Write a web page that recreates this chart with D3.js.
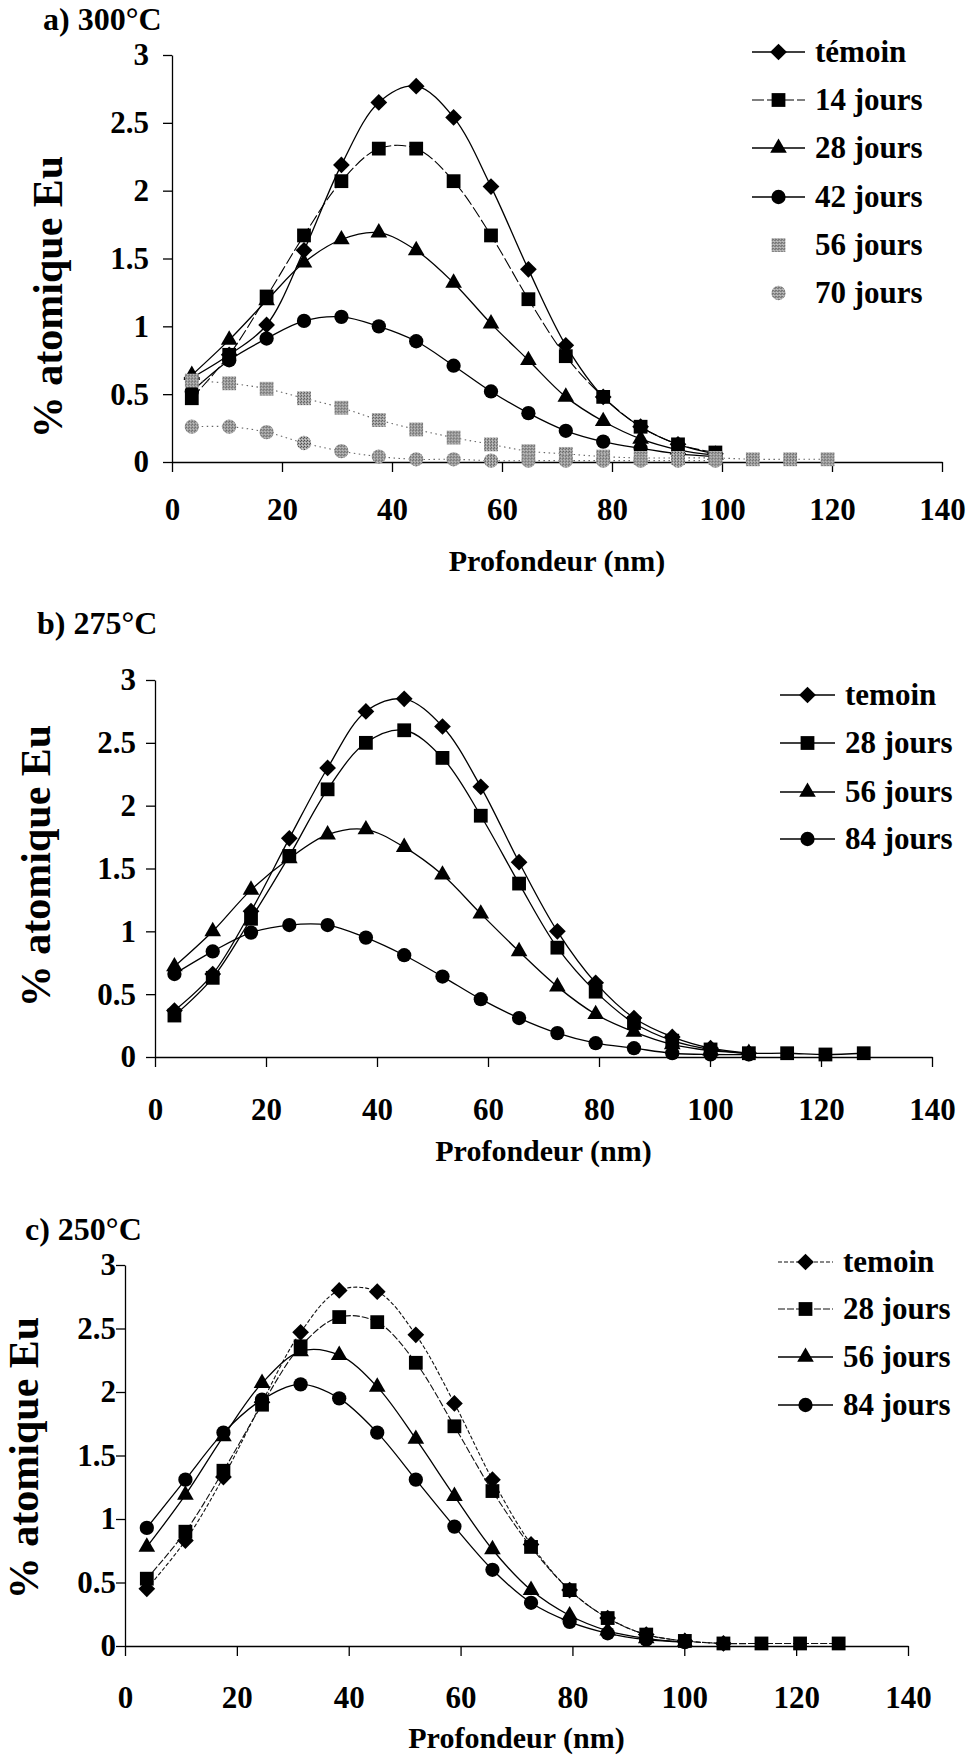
<!DOCTYPE html>
<html><head><meta charset="utf-8">
<script src="https://cdn.jsdelivr.net/npm/d3@7"></script>
<style>
html,body{margin:0;padding:0;background:#fff;}
svg{display:block;}
text{font-family:"Liberation Serif","Times New Roman",serif;font-weight:bold;fill:#000;}
</style>
</head><body>
<svg id="chart" width="969" height="1758"></svg>
<script>
// ---------------- DATA ----------------
const xTicks = [0, 20, 40, 60, 80, 100, 120, 140];
const yTicks = [0, 0.5, 1, 1.5, 2, 2.5, 3];
const xTitle = "Profondeur (nm)";
const yTitle = "% atomique Eu";

// Panel a) 300°C
const titleA = "a) 300°C";
const namesA = ["témoin", "14 jours", "28 jours", "42 jours", "56 jours", "70 jours"];
const depthA = [3.6, 10.4, 17.2, 24.0, 30.8, 37.6, 44.4, 51.2, 58.0, 64.8, 71.6, 78.4, 85.2, 92.0, 98.8, 105.6, 112.4, 119.2];
const a_temoin = [0.62, 0.79, 1.01, 1.56, 2.19, 2.65, 2.77, 2.54, 2.03, 1.42, 0.86, 0.48, 0.26, 0.13, 0.06];
const a_14j    = [0.47, 0.79, 1.22, 1.67, 2.07, 2.31, 2.31, 2.07, 1.67, 1.20, 0.78, 0.48, 0.26, 0.13, 0.07];
const a_28j    = [0.64, 0.90, 1.19, 1.47, 1.64, 1.69, 1.56, 1.32, 1.02, 0.75, 0.48, 0.30, 0.17, 0.09, 0.05];
const a_42j    = [0.52, 0.75, 0.91, 1.04, 1.07, 1.00, 0.89, 0.71, 0.52, 0.36, 0.23, 0.15, 0.10, 0.06, 0.04];
const a_56j    = [0.60, 0.58, 0.54, 0.47, 0.40, 0.31, 0.24, 0.18, 0.13, 0.08, 0.06, 0.04, 0.03, 0.03, 0.03, 0.02, 0.02, 0.02];
const a_70j    = [0.26, 0.26, 0.22, 0.14, 0.08, 0.04, 0.02, 0.02, 0.01, 0.01, 0.01, 0.01, 0.01, 0.01, 0.01];

// Panel b) 275°C
const titleB = "b) 275°C";
const namesB = ["temoin", "28 jours", "56 jours", "84 jours"];
const depthB = [3.5, 10.4, 17.3, 24.2, 31.1, 38.0, 44.9, 51.8, 58.7, 65.6, 72.5, 79.4, 86.3, 93.2, 100.1, 107.0, 113.9, 120.8, 127.7];
const b_temoin = [0.37, 0.66, 1.16, 1.74, 2.30, 2.75, 2.85, 2.63, 2.15, 1.55, 1.00, 0.59, 0.31, 0.16, 0.07, 0.03];
const b_28j    = [0.33, 0.63, 1.10, 1.60, 2.13, 2.50, 2.60, 2.38, 1.92, 1.38, 0.87, 0.52, 0.27, 0.13, 0.06, 0.03, 0.03, 0.02, 0.03];
const b_56j    = [0.72, 1.00, 1.33, 1.58, 1.77, 1.81, 1.67, 1.45, 1.14, 0.84, 0.56, 0.34, 0.20, 0.10, 0.05, 0.03];
const b_84j    = [0.66, 0.84, 0.99, 1.05, 1.05, 0.95, 0.81, 0.64, 0.46, 0.31, 0.19, 0.11, 0.07, 0.03, 0.02, 0.02];

// Panel c) 250°C
const titleC = "c) 250°C";
const namesC = ["temoin", "28 jours", "56 jours", "84 jours"];
const depthC = [3.9, 10.8, 17.6, 24.5, 31.4, 38.3, 45.1, 52.0, 58.9, 65.7, 72.6, 79.5, 86.3, 93.2, 100.1, 107.0, 113.8, 120.7, 127.6];
const c_temoin = [0.45, 0.83, 1.33, 1.92, 2.47, 2.80, 2.79, 2.45, 1.91, 1.31, 0.80, 0.44, 0.22, 0.09, 0.04, 0.02];
const c_28j    = [0.53, 0.90, 1.38, 1.90, 2.36, 2.59, 2.55, 2.23, 1.73, 1.22, 0.78, 0.44, 0.22, 0.09, 0.04, 0.02, 0.02, 0.02, 0.02];
const c_56j    = [0.78, 1.19, 1.65, 2.07, 2.32, 2.29, 2.04, 1.63, 1.18, 0.76, 0.44, 0.24, 0.12, 0.06, 0.03];
const c_84j    = [0.93, 1.31, 1.68, 1.94, 2.06, 1.95, 1.68, 1.31, 0.94, 0.60, 0.34, 0.19, 0.10, 0.05, 0.03];

// ---------------- STYLES / LAYOUT ----------------
const svg = d3.select("#chart");
const defs = svg.append("defs");
const pat = defs.append("pattern").attr("id", "dither").attr("width", 3).attr("height", 3)
  .attr("patternUnits", "userSpaceOnUse");
pat.append("rect").attr("width", 3).attr("height", 3).attr("fill", "#a6a6a6");
pat.append("rect").attr("x", 0).attr("y", 0).attr("width", 1).attr("height", 1).attr("fill", "#4a4a4a");
pat.append("rect").attr("x", 2).attr("y", 1).attr("width", 1).attr("height", 1).attr("fill", "#5a5a5a");
pat.append("rect").attr("x", 1).attr("y", 2).attr("width", 1).attr("height", 1).attr("fill", "#d0d0d0");

const sym = {
  diamond: {type: d3.symbolSquare, size: 140, rot: 45},
  square: {type: d3.symbolSquare, size: 190, rot: 0},
  triangle: {type: d3.symbolTriangle, size: 120, rot: 0},
  circle: {type: d3.symbolCircle, size: 160, rot: 0}
};

const solid = {stroke: "#000", width: 1.3, dash: null};

const panels = [
  {
    title: titleA, tx: 43, ty: 30,
    x0: 172, x1: 942, y0: 462, y1: 55, yPad: 14, xPad: 26, xtY: 571,
    yt: {x: 62, y: 297},
    depth: depthA,
    legend: {lx0: 752, lx1: 805, tx: 815, ys: [52, 100, 148, 197, 245, 293]},
    series: [
      {name: namesA[0], values: a_temoin, marker: "diamond", fill: "#000", line: solid, legendLine: true},
      {name: namesA[1], values: a_14j, marker: "square", fill: "#000", line: {stroke: "#000", width: 1.1, dash: "12,3"}, legendLine: true},
      {name: namesA[2], values: a_28j, marker: "triangle", fill: "#000", line: solid, legendLine: true},
      {name: namesA[3], values: a_42j, marker: "circle", fill: "#000", line: solid, legendLine: true},
      {name: namesA[4], values: a_56j, marker: "square", fill: "url(#dither)", line: {stroke: "#666", width: 1.1, dash: "1.5,3.5"}, legendLine: false},
      {name: namesA[5], values: a_70j, marker: "circle", fill: "url(#dither)", line: {stroke: "#666", width: 1.1, dash: "1.5,3.5"}, legendLine: false}
    ]
  },
  {
    title: titleB, tx: 37, ty: 634,
    x0: 155, x1: 932, y0: 1057, y1: 680, yPad: 10, xPad: 31, xtY: 1161,
    yt: {x: 50, y: 866},
    depth: depthB,
    legend: {lx0: 780, lx1: 835, tx: 845, ys: [695, 743, 792, 839]},
    series: [
      {name: namesB[0], values: b_temoin, marker: "diamond", fill: "#000", line: solid, legendLine: true},
      {name: namesB[1], values: b_28j, marker: "square", fill: "#000", line: solid, legendLine: true},
      {name: namesB[2], values: b_56j, marker: "triangle", fill: "#000", line: solid, legendLine: true},
      {name: namesB[3], values: b_84j, marker: "circle", fill: "#000", line: solid, legendLine: true}
    ]
  },
  {
    title: titleC, tx: 25, ty: 1240,
    x0: 125, x1: 908, y0: 1646, y1: 1265, yPad: 0, xPad: 30, xtY: 1748,
    yt: {x: 38, y: 1458},
    depth: depthC,
    legend: {lx0: 778, lx1: 833, tx: 843, ys: [1262, 1309, 1357, 1405]},
    series: [
      {name: namesC[0], values: c_temoin, marker: "diamond", fill: "#000", line: {stroke: "#111", width: 1.1, dash: "4,2"}, legendLine: true},
      {name: namesC[1], values: c_28j, marker: "square", fill: "#000", line: {stroke: "#111", width: 1.1, dash: "7,2"}, legendLine: true},
      {name: namesC[2], values: c_56j, marker: "triangle", fill: "#000", line: solid, legendLine: true},
      {name: namesC[3], values: c_84j, marker: "circle", fill: "#000", line: solid, legendLine: true}
    ]
  }
];

function markerPath(kind) {
  return d3.symbol().type(sym[kind].type).size(sym[kind].size)();
}

function drawPanel(p) {
  const x = d3.scaleLinear().domain([0, 140]).range([p.x0, p.x1]);
  const y = d3.scaleLinear().domain([0, 3]).range([p.y0, p.y1]);
  const g = svg.append("g");

  // title
  g.append("text").attr("x", p.tx).attr("y", p.ty).attr("font-size", 32).text(p.title);

  // y axis
  const ya = g.append("g").attr("transform", `translate(${p.x0},0)`)
    .call(d3.axisLeft(y).tickValues(yTicks).tickSize(9).tickSizeOuter(0)
      .tickPadding(p.yPad).tickFormat(d3.format("~g")));
  ya.attr("font-family", null).attr("font-size", 31);
  ya.selectAll("line").attr("stroke-width", 1.3);
  ya.select(".domain").attr("stroke-width", 1.3);

  // x axis
  const xa = g.append("g").attr("transform", `translate(0,${p.y0})`)
    .call(d3.axisBottom(x).tickValues(xTicks).tickSize(10).tickSizeOuter(0).tickPadding(p.xPad));
  xa.attr("font-family", null).attr("font-size", 31);
  xa.selectAll("line").attr("stroke-width", 1.3);
  xa.select(".domain").attr("stroke-width", 1.3);

  // axis titles
  g.append("text").attr("x", (p.x0 + p.x1) / 2).attr("y", p.xtY)
    .attr("text-anchor", "middle").attr("font-size", 30).text(xTitle);
  g.append("text").attr("transform", `translate(${p.yt.x},${p.yt.y}) rotate(-90)`)
    .attr("text-anchor", "middle").attr("font-size", 42).text(yTitle);

  // series
  const line = d3.line().x(d => x(d[0])).y(d => y(d[1])).curve(d3.curveCatmullRom.alpha(0.5));
  p.series.forEach(s => {
    const pts = s.values.map((v, i) => [p.depth[i], v]);
    g.append("path").datum(pts).attr("d", line).attr("fill", "none")
      .attr("stroke", s.line.stroke).attr("stroke-width", s.line.width)
      .attr("stroke-dasharray", s.line.dash);
    g.selectAll(null).data(pts).enter().append("path")
      .attr("d", markerPath(s.marker))
      .attr("transform", d => `translate(${x(d[0])},${y(d[1])}) rotate(${sym[s.marker].rot})`)
      .attr("fill", s.fill);
  });

  // legend
  const L = p.legend;
  p.series.forEach((s, i) => {
    const ly = L.ys[i];
    const mx = (L.lx0 + L.lx1) / 2;
    if (s.legendLine) {
      g.append("line").attr("x1", L.lx0).attr("x2", L.lx1).attr("y1", ly).attr("y2", ly)
        .attr("stroke", s.line.stroke).attr("stroke-width", s.line.width)
        .attr("stroke-dasharray", s.line.dash);
    }
    g.append("path").attr("d", markerPath(s.marker))
      .attr("transform", `translate(${mx},${ly}) rotate(${sym[s.marker].rot})`)
      .attr("fill", s.fill);
    g.append("text").attr("x", L.tx).attr("y", ly + 10).attr("font-size", 31).text(s.name);
  });
}

panels.forEach(drawPanel);
</script>
</body></html>
